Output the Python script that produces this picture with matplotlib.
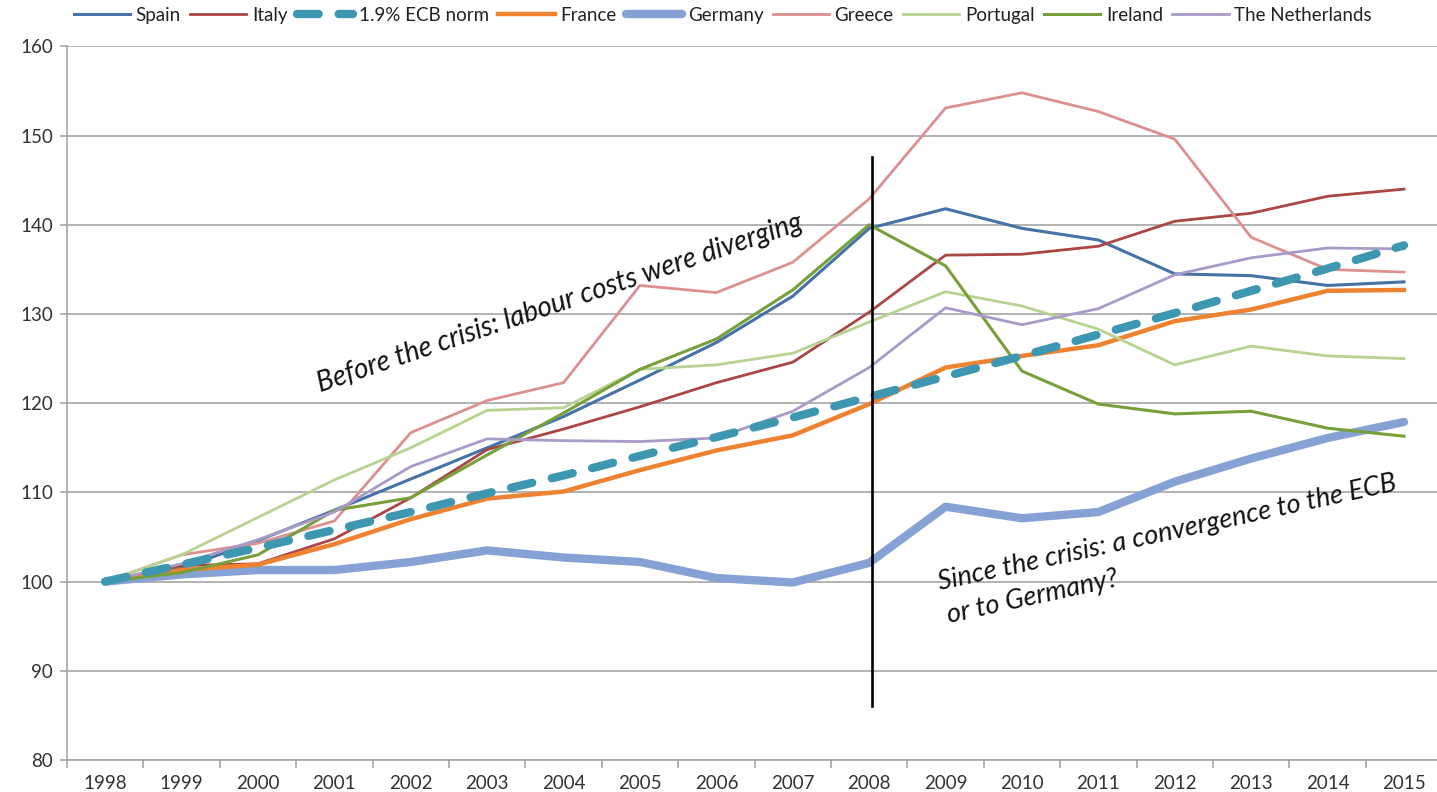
import numpy as np
import matplotlib.pyplot as plt
from matplotlib.ticker import FixedLocator

years = np.arange(1998, 2016)

spain = [100, 101.5, 104.6, 108.0, 111.5, 115.0, 118.5, 122.6, 126.8, 132.0,
         139.6, 141.8, 139.6, 138.3, 134.5, 134.3, 133.2, 133.6]
italy = [100, 101.8, 102.0, 104.8, 109.4, 114.8, 117.1, 119.6, 122.3, 124.6,
         130.2, 136.6, 136.7, 137.6, 140.4, 141.3, 143.2, 144.0]
ecb_norm = [100, 101.9, 103.8, 105.8, 107.8, 109.9, 111.9, 114.1, 116.2, 118.4,
            120.7, 123.0, 125.3, 127.7, 130.1, 132.6, 135.1, 137.7]
france = [100, 101.3, 101.9, 104.2, 107.0, 109.3, 110.1, 112.5, 114.7, 116.4,
          119.9, 124.0, 125.3, 126.5, 129.2, 130.5, 132.6, 132.7]
germany = [100, 100.8, 101.3, 101.3, 102.2, 103.5, 102.7, 102.2, 100.4, 99.9,
           102.1, 108.4, 107.1, 107.8, 111.2, 113.8, 116.1, 117.9]
greece = [100, 103.0, 104.3, 106.8, 116.7, 120.3, 122.3, 133.2, 132.4, 135.8,
          142.9, 153.1, 154.8, 152.7, 149.6, 138.6, 135.0, 134.7]
portugal = [100, 103.0, 107.2, 111.4, 115.0, 119.2, 119.5, 123.8, 124.3, 125.6,
            129.1, 132.5, 130.9, 128.3, 124.3, 126.4, 125.3, 125.0]
ireland = [100, 101.0, 103.0, 108.0, 109.4, 114.2, 118.9, 123.8, 127.2, 132.7,
           140.0, 135.4, 123.6, 119.9, 118.8, 119.1, 117.2, 116.3]
netherlands = [100, 102.0, 104.7, 107.8, 112.9, 116.0, 115.8, 115.7, 116.1, 119.1,
               124.0, 130.7, 128.8, 130.6, 134.4, 136.3, 137.4, 137.3]

plt.rcParams['font.family'] = ['Lato', 'DejaVu Sans']

fig = plt.figure(figsize=(14.37, 7.92), dpi=100)
ax = fig.add_axes([0.0466, 0.0404, 0.957, 0.901])

ax.plot(years, spain, color='#4572A7', lw=2.2, label='Spain', zorder=5)
ax.plot(years, italy, color='#AA4643', lw=2.0, label='Italy', zorder=5)
ax.plot(years, ecb_norm, color='#3E97B0', lw=6.0, ls=(0, (2.6, 2.4)),
        dash_capstyle='round', label='1.9% ECB norm', zorder=6)
ax.plot(years, france, color='#EE8230', lw=3.2, label='France', zorder=5)
ax.plot(years, germany, color='#86A2D4', lw=6.0, solid_capstyle='round',
        label='Germany', zorder=4)
ax.plot(years, greece, color='#DC9090', lw=2.0, label='Greece', zorder=5)
ax.plot(years, portugal, color='#B7D392', lw=2.0, label='Portugal', zorder=5)
ax.plot(years, ireland, color='#77A03B', lw=2.2, label='Ireland', zorder=5)
ax.plot(years, netherlands, color='#A99BC9', lw=2.0, label='The Netherlands', zorder=5)

# crisis marker
ax.plot([2008.04, 2008.04], [86.1, 147.6], color='black', lw=1.9, zorder=7)

ax.text(2003.95, 131.2, 'Before the crisis: labour costs were diverging',
        rotation=18.6, rotation_mode='anchor', ha='center', va='center',
        fontsize=20, style='italic', color='#111111')
ax.text(2008.93, 99.0, 'Since the crisis: a convergence to the ECB',
        rotation=12.3, rotation_mode='anchor', ha='left', va='baseline',
        fontsize=19.5, style='italic', color='#111111')
ax.text(2009.05, 95.4, 'or to Germany?',
        rotation=12.3, rotation_mode='anchor', ha='left', va='baseline',
        fontsize=19.5, style='italic', color='#111111')

ax.set_xlim(1997.5, 2015.5)
ax.set_ylim(80, 160)
ax.set_yticks(np.arange(80, 161, 10))
ax.yaxis.grid(True, color='#A6A6A6', lw=1.2)
ax.set_axisbelow(True)

ax.xaxis.set_major_locator(FixedLocator(np.arange(1997.5, 2015.6, 1)))
ax.xaxis.set_minor_locator(FixedLocator(years))
ax.set_xticklabels([])
ax.set_xticklabels([str(y) for y in years], minor=True)
ax.tick_params(axis='x', which='major', length=6, color='#A6A6A6', width=1.2)
ax.tick_params(axis='x', which='minor', length=0, pad=11, labelsize=13.5,
               labelcolor='#333333')
ax.tick_params(axis='y', length=5, color='#A6A6A6', width=1.2, labelsize=13.5,
               labelcolor='#333333', pad=5)

for s in ['top', 'right']:
    ax.spines[s].set_visible(False)
for s in ['left', 'bottom']:
    ax.spines[s].set_color('#A6A6A6')
    ax.spines[s].set_linewidth(1.2)

fig.legend(loc='center', bbox_to_anchor=(0.503, 0.981), ncol=9, frameon=False,
           fontsize=13.5, handlelength=3.0, handletextpad=0.3, columnspacing=0.5,
           labelcolor='#222222')

fig.savefig('out.png', dpi=100)
